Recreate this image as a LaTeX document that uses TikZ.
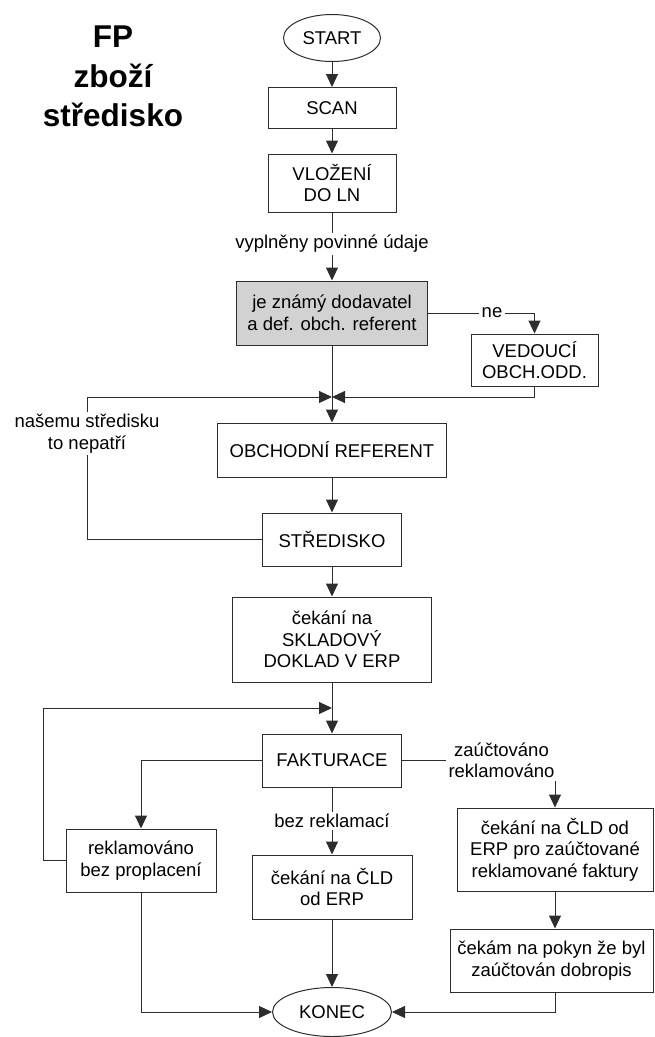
\documentclass[tikz,border=0pt]{standalone}
\usepackage{fontspec}
\setmainfont{Liberation Sans}
\usetikzlibrary{shapes.geometric, arrows.meta, positioning}
\definecolor{boxgray}{RGB}{210,210,210}
\definecolor{linegray}{RGB}{45,45,45}
\tikzstyle{block} = [draw=linegray, fill=white, rectangle, align=center, inner sep=0pt]
\tikzstyle{decision} = [block, fill=boxgray]
\tikzstyle{terminal} = [draw=linegray, fill=white, ellipse, inner sep=0pt]
\tikzstyle{note} = [align=center, inner sep=2pt]

\begin{document}
\begin{tikzpicture}[x=1pt,y=-1pt,>={Triangle[length=13pt,width=12pt]},
    font=\fontsize{18.5}{21.5}\selectfont, line width=1pt, draw=linegray]
    \useasboundingbox (0,0) rectangle (654,1037);
    % title
    \node [align=center, inner sep=0pt, font=\bfseries\fontsize{31.5}{39.5}\selectfont] (title) at (113,76.6) {FP\\zboží\\středisko};
    % main column
    \node [terminal, minimum width=97pt, minimum height=47pt] (start) at (332,38) {START};
    \node [block, minimum width=128pt, minimum height=41pt] (scan) at (332,108) {SCAN};
    \node [block, minimum width=128pt, minimum height=58pt] (vlozeni) at (332,183) {VLOŽENÍ\\DO LN};
    \node [note] (vypl) at (332,244) {vyplněny povinné údaje};
    \node [decision, minimum width=191pt, minimum height=64pt] (znamy) at (332,313) {je známý dodavatel\\a def. obch. referent};
    \node [note] (ne) at (492,313) {ne};
    \node [block, minimum width=127pt, minimum height=52pt] (vedouci) at (534.5,360) {VEDOUCÍ\\OBCH.ODD.};
    \coordinate (j1) at (332,397);
    \node [note] (nase) at (87,433.5) {našemu středisku\\to nepatří};
    \node [block, minimum width=229pt, minimum height=54pt] (obchref) at (332,450) {OBCHODNÍ REFERENT};
    \node [block, minimum width=139pt, minimum height=53pt] (stredisko) at (332,539.5) {STŘEDISKO};
    \node [block, minimum width=199pt, minimum height=85pt] (cekani) at (332,639.5) {čekání na\\SKLADOVÝ\\DOKLAD V ERP};
    \coordinate (j2) at (332,708);
    \node [block, minimum width=139pt, minimum height=53pt] (fakturace) at (332,760.5) {FAKTURACE};
    % branches
    \node [note] (zauct) at (501.5,760.5) {zaúčtováno\\reklamováno};
    \node [note] (bezrek) at (332,821) {bez reklamací};
    \node [block, minimum width=150pt, minimum height=63pt] (reklam) at (141,860.5) {reklamováno\\bez proplacení};
    \node [block, minimum width=160pt, minimum height=64pt] (cld) at (332,887) {čekání na ČLD\\od ERP};
    \node [block, minimum width=196pt, minimum height=83pt] (cldzauct) at (555,849.5) {čekání na ČLD od\\ERP pro zaúčtované\\reklamované faktury};
    \node [block, minimum width=203pt, minimum height=63pt] (pokyn) at (551.5,960.5) {čekám na pokyn že byl\\zaúčtován dobropis};
    \node [terminal, minimum width=119pt, minimum height=49pt] (konec) at (332,1012) {KONEC};

    \draw [->] (start) -- (scan);
    \draw [->] (scan) -- (vlozeni);
    \draw (vlozeni) -- (vypl);
    \draw [->] (vypl) -- (znamy);
    \draw (znamy) -- (ne);
    \draw [->] (ne) -| (vedouci);
    \draw (znamy) -- (j1);
    \draw [->] (vedouci) |- (j1);
    \draw (stredisko) -| (nase);
    \draw [->] (nase) |- (j1);
    \draw [->] (j1) -- (obchref);
    \draw [->] (obchref) -- (stredisko);
    \draw [->] (stredisko) -- (cekani);
    \draw (cekani) -- (j2);
    \draw [->] (reklam.west) -- ++(-22,0) |- (j2);
    \draw [->] (j2) -- (fakturace);
    \draw [->] (fakturace) -| (reklam);
    \draw (fakturace) -- (bezrek);
    \draw [->] (bezrek) -- (cld);
    \draw (fakturace) -- (zauct);
    \draw [->] (zauct.south -| cldzauct.north) -- (cldzauct);
    \draw [->] (cldzauct) -- (cldzauct |- pokyn.north);
    \draw [->] (pokyn.south -| cldzauct) |- (konec);
    \draw [->] (cld) -- (konec);
    \draw [->] (reklam) |- (konec);
\end{tikzpicture}
\end{document}
